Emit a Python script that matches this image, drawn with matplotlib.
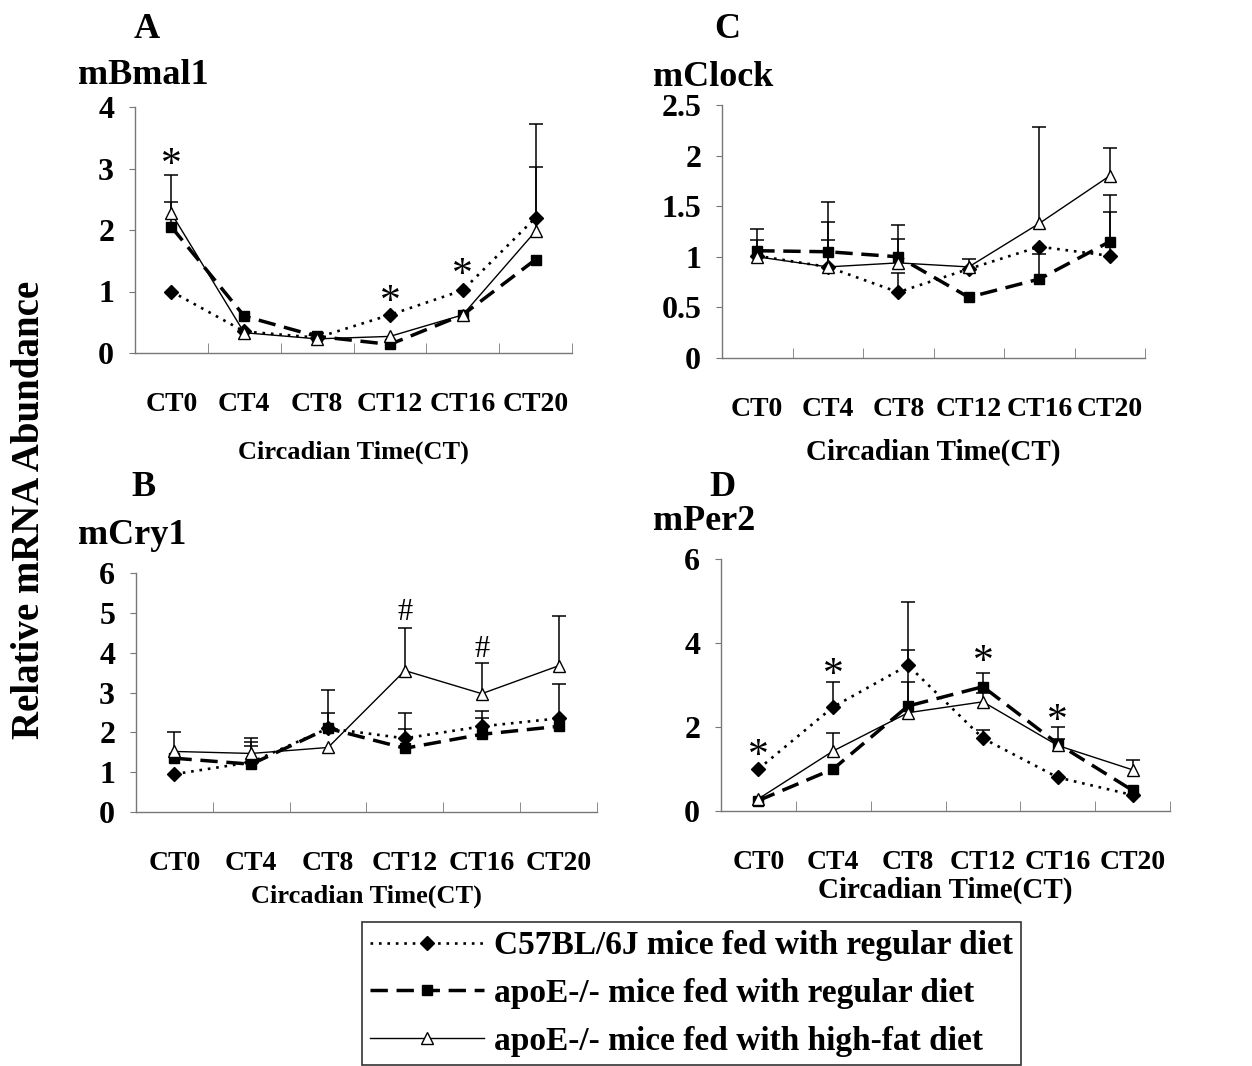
import numpy as np
import matplotlib
matplotlib.use('Agg')
from matplotlib import pyplot as plt

plt.rcParams['font.family'] = ['Liberation Serif', 'DejaVu Serif']
plt.rcParams['font.weight'] = 'bold'

nan = np.nan
ct_labels = ['CT0', 'CT4', 'CT8', 'CT12', 'CT16', 'CT20']
series_names = ['C57BL/6J mice fed with regular diet',
                'apoE-/- mice fed with regular diet',
                'apoE-/- mice fed with high-fat diet']

# A: mBmal1
bmal_c57 = [1.0, 0.35, 0.25, 0.62, 1.02, 2.2]
bmal_reg = [2.05, 0.6, 0.27, 0.14, 0.62, 1.52]
bmal_hf = [2.27, 0.33, 0.23, 0.27, 0.62, 1.98]
bmal_err_c57 = [nan, nan, nan, nan, nan, 0.82]
bmal_err_reg = [0.40, nan, 0.05, nan, nan, nan]
bmal_err_hf = [0.62, nan, nan, nan, nan, 1.74]
bmal_marks = [(0, 3.2), (3, 0.97), (4, 1.42)]

# C: mClock
clock_c57 = [1.01, 0.9, 0.65, 0.88, 1.1, 1.01]
clock_reg = [1.06, 1.05, 1.0, 0.6, 0.78, 1.15]
clock_hf = [1.0, 0.9, 0.94, 0.9, 1.33, 1.8]
clock_err_c57 = [nan, 0.27, 0.19, nan, nan, 0.43]
clock_err_reg = [0.21, 0.29, 0.31, nan, 0.25, 0.46]
clock_err_hf = [0.17, 0.64, 0.24, 0.08, 0.95, 0.28]

# B: mCry1
cry_c57 = [0.95, 1.25, 2.1, 1.85, 2.15, 2.35]
cry_reg = [1.35, 1.2, 2.1, 1.6, 1.95, 2.15]
cry_hf = [1.52, 1.47, 1.62, 3.55, 2.97, 3.67]
cry_err_c57 = [nan, 0.51, 0.96, 0.64, 0.39, 0.86]
cry_err_reg = [nan, 0.45, 0.39, 0.48, 0.42, nan]
cry_err_hf = [0.5, 0.4, nan, 1.06, 0.76, 1.24]
cry_marks = [(3, 5.24), (4, 4.32)]

# D: mPer2
per_c57 = [1.0, 2.48, 3.47, 1.73, 0.8, 0.38]
per_reg = [0.25, 1.0, 2.5, 2.96, 1.6, 0.49]
per_hf = [0.29, 1.43, 2.34, 2.6, 1.56, 0.98]
per_err_c57 = [nan, 0.59, 1.5, 0.2, nan, nan]
per_err_reg = [nan, nan, 1.33, 0.33, 0.12, nan]
per_err_hf = [nan, 0.42, 0.73, 0.2, 0.43, 0.23]
per_marks = [(0, 1.53), (1, 3.44), (3, 3.75), (4, 2.35)]


def upper_err(ax, x, y, err):
    # only the upper half of the error bar, like excel "plus"
    y = np.array(y, dtype=float)
    err = np.array(err, dtype=float)
    m = ~np.isnan(err)
    ax.vlines(x[m], y[m], y[m] + err[m], color='k', lw=1.1, zorder=2)
    ax.plot(x[m], (y + err)[m], ls='none', marker='_', ms=10, mew=1.1, color='k', zorder=2)


def panel(ax, c57, reg, hf, e_c57, e_reg, e_hf, ymax, ystep, ylabels, xl_size, xl_pad):
    x = np.arange(len(ct_labels))
    upper_err(ax, x, c57, e_c57)
    upper_err(ax, x, reg, e_reg)
    upper_err(ax, x, hf, e_hf)
    l1, = ax.plot(x, c57, color='k', ls=(0, (1, 2.2)), lw=1.9, marker='D', ms=7, zorder=3)
    l2, = ax.plot(x, reg, color='k', ls=(0, (5, 2.5)), lw=2.5, marker='s', ms=7, zorder=3)
    l3, = ax.plot(x, hf, color='k', ls='-', lw=1.0, marker='^', ms=9, mfc='white', mew=1.0, zorder=4)

    ax.set_xlim(-0.5, 5.5)
    ax.set_ylim(0, ymax)
    ax.set_xticks(x)
    ax.set_xticklabels(ct_labels, fontsize=20, fontweight='bold')
    ax.set_xticks(x + 0.5, minor=True)
    ax.tick_params(axis='x', which='major', length=0, pad=28)
    ax.tick_params(axis='x', which='minor', direction='in', length=7, color='#777777')
    ax.set_yticks(np.arange(0, ymax + ystep / 2, ystep))
    ax.set_yticklabels(ylabels, fontsize=23, fontweight='bold')
    ax.tick_params(axis='y', direction='out', length=4, color='#777777', pad=11)
    for s in ['top', 'right']:
        ax.spines[s].set_visible(False)
    for s in ['left', 'bottom']:
        ax.spines[s].set_color('#777777')
        ax.spines[s].set_linewidth(1.0)
    ax.set_xlabel('Circadian Time(CT)', fontsize=xl_size, fontweight='bold', labelpad=xl_pad)
    return l1, l2, l3


def marks(ax, pts, sym, size):
    # glyph centre of * and # sits high, push it down a bit
    for xi, yi in pts:
        ax.annotate(sym, (xi, yi), xytext=(0, -7), textcoords='offset points',
                    ha='center', va='center', fontsize=size, fontweight='normal')


def myplot():
    fig = plt.figure(figsize=(12.52, 10.66), dpi=100)
    W, H = 1252.0, 1066.0

    def box(l, r, t, b):
        return [l / W, 1 - b / H, (r - l) / W, (b - t) / H]

    axA = fig.add_axes(box(135, 572, 107, 353))
    axC = fig.add_axes(box(722, 1145, 105, 358))
    axB = fig.add_axes(box(136, 597, 573, 812))
    axD = fig.add_axes(box(721, 1170, 559, 811))

    handles = panel(axA, bmal_c57, bmal_reg, bmal_hf, bmal_err_c57, bmal_err_reg, bmal_err_hf,
                    4, 1, ['0', '1', '2', '3', '4'], 19, 17)
    panel(axC, clock_c57, clock_reg, clock_hf, clock_err_c57, clock_err_reg, clock_err_hf,
          2.5, 0.5, ['0', '0.5', '1', '1.5', '2', '2.5'], 21, 12)
    panel(axB, cry_c57, cry_reg, cry_hf, cry_err_c57, cry_err_reg, cry_err_hf,
          6, 1, ['0', '1', '2', '3', '4', '5', '6'], 19, 6)
    panel(axD, per_c57, per_reg, per_hf, per_err_c57, per_err_reg, per_err_hf,
          6, 2, ['0', '2', '4', '6'], 21, 1)

    # significance marks
    marks(axA, bmal_marks, '*', 30)
    marks(axD, per_marks, '*', 30)
    marks(axB, cry_marks, '#', 22)

    # panel letters and gene names
    def ftext(px, py, s, size, ha='left'):
        fig.text(px / W, 1 - py / H, s, fontsize=size, fontweight='bold', ha=ha, va='center')

    ftext(147, 30, 'A', 26, 'center')
    ftext(78, 75, 'mBmal1', 26)
    ftext(727, 30, 'C', 26, 'center')
    ftext(653, 77, 'mClock', 26)
    ftext(143, 488, 'B', 26, 'center')
    ftext(78, 536, 'mCry1', 26)
    ftext(722, 488, 'D', 26, 'center')
    ftext(653, 522, 'mPer2', 26)

    fig.text(30 / W, 1 - 510 / H, 'Relative mRNA Abundance', fontsize=28, fontweight='bold',
             rotation=90, ha='center', va='center')

    leg = fig.legend(handles, series_names, loc='upper left',
                     bbox_to_anchor=(362 / W, 1 - 922 / H), fancybox=False, edgecolor='k',
                     prop={'size': 24, 'weight': 'bold'}, handlelength=3.4,
                     labelspacing=0.5, borderpad=0.25, handletextpad=0.3, borderaxespad=0)
    leg.get_frame().set_linewidth(1.2)

    plt.savefig('out.png', dpi=100)


if __name__ == "__main__":
    myplot()
